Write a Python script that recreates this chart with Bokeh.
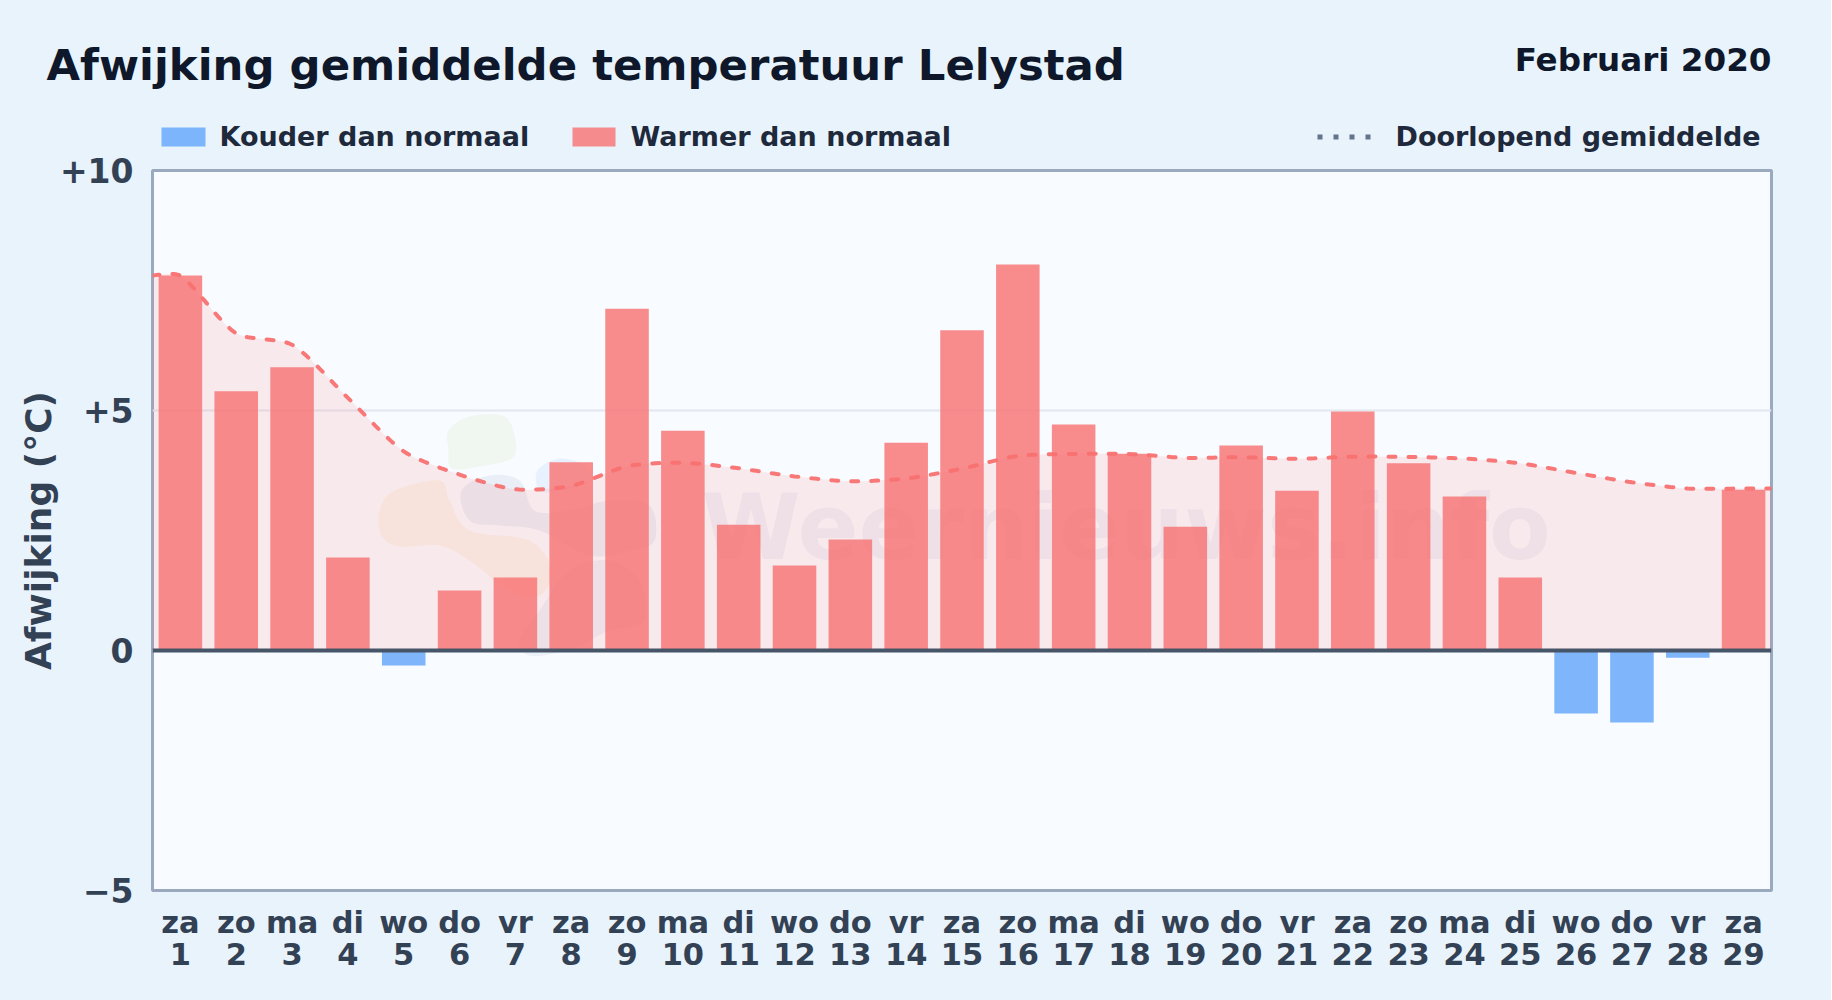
from bokeh.plotting import figure
from bokeh.layouts import column
from bokeh.embed import file_html
from bokeh.resources import INLINE
from bokeh.models import ColumnDataSource, Span, FixedTicker, Range1d
from bokeh.core.properties import value
import numpy as np

# ---- data ----
weekdays = ["za","zo","ma","di","wo","do","vr","za","zo","ma","di","wo","do","vr","za",
            "zo","ma","di","wo","do","vr","za","zo","ma","di","wo","do","vr","za"]
days = list(range(1, 30))
anomaly = [7.81, 5.40, 5.90, 1.94, -0.31, 1.25, 1.52, 3.92, 7.12, 4.58, 2.62, 1.77, 2.31, 4.33, 6.67,
           8.04, 4.71, 4.10, 2.58, 4.27, 3.33, 4.98, 3.90, 3.21, 1.52, -1.31, -1.50, -0.15, 3.35]
y_ticks = [-5, 0, 5, 10]
y_tick_labels = ["\u22125", "0", "+5", "+10"]
title_text = "Afwijking gemiddelde temperatuur Lelystad"
date_text = "Februari 2020"
y_label = "Afwijking (\u00b0C)"
legend_labels = ["Kouder dan normaal", "Warmer dan normaal", "Doorlopend gemiddelde"]
watermark = "Weernieuws.info"

FONT = "DejaVu Sans"
BG, PLOT_BG = "#e8f3fc", "#f8fbff"
W, H = 1832, 1000
HEAD = 156      # height of the header strip
OVER = 14       # the chart's transparent border reaches this far over the strip
L, R, TOP, BOTTOM = 153, 60, 170, 890
K = 0.42        # baseline correction of Bokeh's text glyph, in font sizes

# ---- header strip: title, date, legend row ----
head = figure(width=W, height=HEAD, output_backend="svg", toolbar_location=None,
              x_range=Range1d(0, W), y_range=Range1d(HEAD, 0),
              x_axis_location=None, y_axis_location=None, min_border=0, frame_align=False,
              background_fill_color=BG, border_fill_color=BG, outline_line_color=None)
head.grid.visible = False

def head_text(x, y, t, size, color, align="left"):
    head.text([x], [y - K * size], text=[t], text_font=value(FONT), text_font_style="bold",
              text_font_size=value(f"{size}px"), text_color=color, text_align=align,
              text_baseline="alphabetic")

head_text(47, 83, title_text, 43.4, "#0f172a")
head_text(1772, 73, date_text, 32.6, "#0f172a", "right")
head.quad(left=[162], right=[206], top=[127], bottom=[146], fill_color="#60a5fa", fill_alpha=0.8, line_color=None)
head_text(220, 147, legend_labels[0], 27, "#1e293b")
head.quad(left=[573], right=[616], top=[127], bottom=[146], fill_color="#f87171", fill_alpha=0.8, line_color=None)
head_text(631, 147, legend_labels[1], 27, "#1e293b")
head.line([1318, 1373], [136.5, 136.5], line_color="#64748b", line_width=5, line_dash="5 11")
head_text(1396, 147, legend_labels[2], 27, "#1e293b")

# ---- chart ----
p = figure(width=W, height=H - HEAD + OVER, output_backend="svg", toolbar_location=None,
           x_range=Range1d(0.5, 29.5), y_range=Range1d(-5, 10), frame_align=False,
           min_border_left=L, min_border_right=R, min_border_top=TOP - HEAD + OVER, min_border_bottom=H - BOTTOM,
           background_fill_color=PLOT_BG, border_fill_alpha=0,
           outline_line_color="#9aa9bd", outline_line_width=3,
           styles={"margin-top": f"-{OVER}px"})

FW, FH = W - L - R, BOTTOM - TOP
def dx(px): return 0.5 + (px - L) / FW * 29
def dy(py): return 10 - (py - TOP) / FH * 15

# faint logo and site name behind the chart
def blob(pts, color, alpha):
    P = np.array(pts, float); n = len(P); out = []
    for i in range(n):
        a, b, c, d = P[i-1], P[i], P[(i+1) % n], P[(i+2) % n]
        for t in np.linspace(0, 1, 14, endpoint=False):
            out.append(0.5*((2*b) + (c-a)*t + (2*a-5*b+4*c-d)*t*t + (3*b-a-3*c+d)*t**3))
    out = np.array(out)
    p.patch(dx(out[:,0]), dy(out[:,1]), fill_color=color, fill_alpha=alpha, line_color=None)

blob([(449,430),(470,416),(505,416),(516,440),(512,458),(480,466),(452,468),(449,450)], "#bbe08a", 0.12)
blob([(380,510),(395,490),(440,480),(450,500),(470,530),(530,540),(552,570),(540,595),(510,590),
      (470,560),(440,545),(400,546),(382,535)], "#f5c77e", 0.15)
blob([(462,490),(490,475),(520,480),(535,510),(570,510),(610,500),(650,505),(655,540),(630,550),
      (590,555),(540,530),(500,525),(470,520)], "#8a94b8", 0.12)
blob([(570,570),(610,560),(640,580),(645,620),(610,630),(580,645),(560,652),(530,655),(520,640),
      (540,610)], "#8a94b8", 0.10)
blob([(538,470),(560,458),(585,465),(590,480),(560,490),(540,490)], "#8cc4f5", 0.15)
p.text([dx(702)], [dy(565 - K * 90)], text=[watermark], text_font=value(FONT), text_font_style="bold",
       text_font_size=value("90px"), text_color="#64748b", text_alpha=0.07, text_baseline="alphabetic")

# running mean, smoothed as a tension spline in pixel space
vals = np.array(anomaly)
mean = np.cumsum(vals) / np.arange(1, len(vals) + 1)
xs = np.concatenate([[0.5], np.array(days, float), [29.5]])
ys = np.concatenate([[mean[0]], mean, [mean[-1]]])
PX, PY = FW / 29, FH / 15
pts = np.column_stack([xs * PX, ys * PY])
TENSION = 0.25
prev_cp, next_cp = pts.copy(), pts.copy()
for i in range(1, len(pts) - 1):
    d01 = np.hypot(*(pts[i] - pts[i-1])); d12 = np.hypot(*(pts[i+1] - pts[i]))
    prev_cp[i] = pts[i] - TENSION * d01 / (d01 + d12) * (pts[i+1] - pts[i-1])
    next_cp[i] = pts[i] + TENSION * d12 / (d01 + d12) * (pts[i+1] - pts[i-1])
c = []
for i in range(len(pts) - 1):
    for t in np.linspace(0, 1, 12, endpoint=False):
        c.append((1-t)**3*pts[i] + 3*(1-t)**2*t*next_cp[i] + 3*(1-t)*t*t*prev_cp[i+1] + t**3*pts[i+1])
c.append(pts[-1]); c = np.array(c)
curve = ColumnDataSource(dict(x=c[:,0]/PX, y=c[:,1]/PY, z=np.zeros(len(c))))
p.varea("x", "z", "y", source=curve, fill_color="#f87171", fill_alpha=0.13)

# bars
pos = ColumnDataSource(dict(x=[d for d, v in zip(days, anomaly) if v >= 0], top=[v for v in anomaly if v >= 0]))
neg = ColumnDataSource(dict(x=[d for d, v in zip(days, anomaly) if v < 0], top=[v for v in anomaly if v < 0]))
p.vbar("x", 0.78, 0, "top", source=pos, fill_color="#f87171", fill_alpha=0.8, line_color=None)
p.vbar("x", 0.78, 0, "top", source=neg, fill_color="#60a5fa", fill_alpha=0.8, line_color=None)

p.add_layout(Span(location=0, dimension="width", line_color="#475569", line_width=4))

p.line("x", "y", source=curve, line_color="#f87171", line_width=4, line_alpha=0.95,
       line_dash="7 13", line_cap="round")

# axes
p.xaxis.ticker = FixedTicker(ticks=days)
p.xaxis.major_label_overrides = {d: f"{w}\n{d}" for d, w in zip(days, weekdays)}
p.yaxis.ticker = FixedTicker(ticks=y_ticks)
p.yaxis.major_label_overrides = dict(zip(y_ticks, y_tick_labels))
for ax in (p.xaxis[0], p.yaxis[0]):
    ax.axis_line_color = None
    ax.major_tick_line_color = None
    ax.minor_tick_line_color = None
    ax.major_label_text_font = FONT
    ax.major_label_text_font_style = "bold"
    ax.major_label_text_color = "#334155"
p.xaxis.major_label_text_font_size = "30.5px"
p.xaxis.major_label_text_line_height = 0.93
p.yaxis.major_label_text_font_size = "33px"
p.xaxis.major_label_standoff = 8
p.yaxis.major_label_standoff = 13
p.yaxis.axis_label = y_label
p.yaxis.axis_label_text_font = FONT
p.yaxis.axis_label_text_font_style = "bold"
p.yaxis.axis_label_text_font_size = "36px"
p.yaxis.axis_label_text_color = "#334155"
p.yaxis.axis_label_standoff = -2
p.xgrid.visible = False
p.ygrid.grid_line_color = "#e2e8f0"
p.ygrid.grid_line_width = 2

page = column(head, p, spacing=0, styles={"position": "fixed", "left": "-1px", "top": "0",
                                          "background-color": BG})
open("out.html", "w").write(file_html(page, INLINE))
